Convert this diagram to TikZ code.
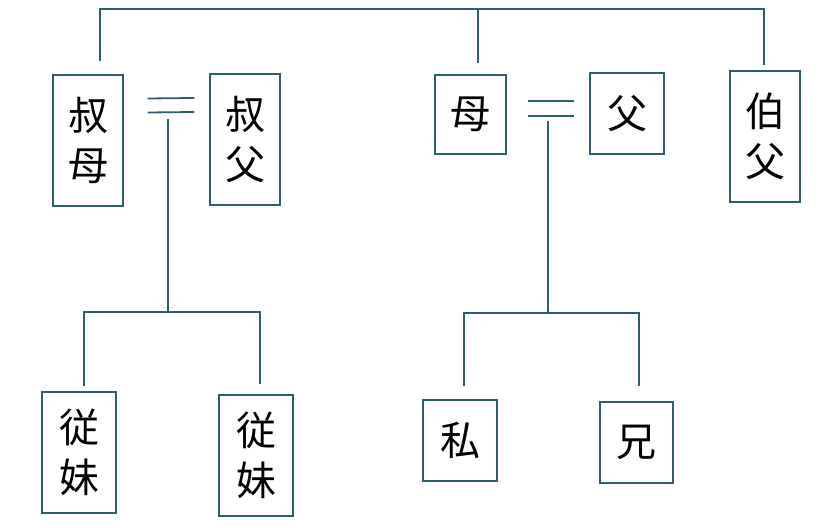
\documentclass[tikz,border=0pt]{standalone}
\usepackage{fontspec}
\newfontfamily\cjk{Noto Sans CJK JP}
\definecolor{kinteal}{HTML}{2E5F6C}

\begin{document}
\begin{tikzpicture}[x=1pt,y=-1pt]
            \tikzstyle{kin}=[rectangle, draw=kinteal, line width=1.1pt,
            inner sep=0pt, align=center,
            font=\cjk\fontsize{40}{50}\selectfont]
            \tikzstyle{kinline}=[draw=kinteal, line width=1.8pt]
            \useasboundingbox (0,0) rectangle (823,532);

            \foreach \n/\x/\y/\w/\h/\t in {shumo/88/140.5/70/131/{叔\\母},
                shufu/245/139.5/70/131/{叔\\父},
                haha/470.5/114.5/71/79/{母},
                chichi/627/113.5/74/81/{父},
                hakufu/765/136.5/70/131/{伯\\父},
                itokoa/79/452.5/74/121/{従\\妹},
                itokob/256/455.5/74/121/{従\\妹},
                watashi/460/440.5/74/81/{私},
                ani/636.5/442.5/73/81/{兄}}
            \node[kin, minimum width=\w pt, minimum height=\h pt] (\n) at (\x,\y) {\t};

            % siblings of the upper generation
            \coordinate (topbar) at (478,9);
            \path[kinline] ([xshift=12pt,yshift=13pt]shumo.north) |- (topbar)
                -| ([xshift=-1pt,yshift=5pt]hakufu.north);
            \path[kinline] (topbar) -- ([xshift=7.5pt,yshift=11pt]haha.north);

            % marriages
            \path[kinline] ([xshift=24pt,yshift=42pt]shumo.east) -- ([xshift=-15pt,yshift=41.5pt]shufu.west);
            \path[kinline] ([xshift=24pt,yshift=28pt]shumo.east) -- ([xshift=-15pt,yshift=27.5pt]shufu.west);
            \path[kinline] ([xshift=21pt,yshift=13.5pt]haha.east) -- ([xshift=-15pt,yshift=12.5pt]chichi.west);
            \path[kinline] ([xshift=21pt,yshift=-1.5pt]haha.east) -- ([xshift=-15pt,yshift=-2.5pt]chichi.west);

            % children
            \coordinate (weda) at (168,119);
            \coordinate (kidsa) at (168,312);
            \path[kinline] (weda) -- (kidsa);
            \path[kinline] ([xshift=5pt,yshift=5pt]itokoa.north) |- (kidsa)
                -| ([xshift=4pt,yshift=10pt]itokob.north);

            \coordinate (wedb) at (548,121);
            \coordinate (kidsb) at (548,313);
            \path[kinline] (wedb) -- (kidsb);
            \path[kinline] ([xshift=4pt,yshift=13pt]watashi.north) |- (kidsb)
                -| ([xshift=2.5pt,yshift=15pt]ani.north);
        \end{tikzpicture}
\end{document}
